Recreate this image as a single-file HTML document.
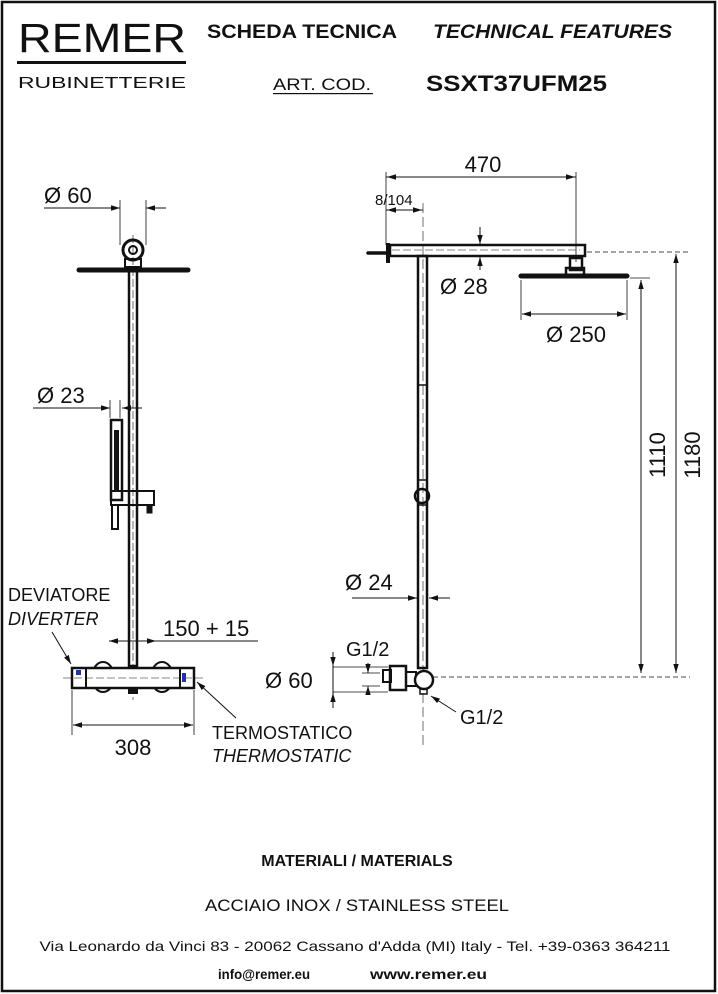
<!DOCTYPE html>
<html><head><meta charset="utf-8"><style>
html,body{margin:0;padding:0;background:#fff}
svg{display:block}
text{font-family:"Liberation Sans",sans-serif;fill:#111}
</style></head><body>
<svg width="718" height="994" viewBox="0 0 718 994" xmlns="http://www.w3.org/2000/svg">
<defs>
<marker id="a" viewBox="0 0 10 10" refX="10" refY="5" markerWidth="9" markerHeight="9" orient="auto-start-reverse"><path d="M0,2 L10,5 L0,8 z" fill="#111"/></marker>
</defs>
<rect x="2" y="2" width="713" height="989" fill="none" stroke="#111" stroke-width="2.5"/>
<!-- header -->
<text x="18" y="52" font-size="41" textLength="168" lengthAdjust="spacingAndGlyphs">REMER</text>
<rect x="17" y="61" width="169" height="3" fill="#111"/>
<text x="18" y="88" font-size="16" textLength="168" lengthAdjust="spacingAndGlyphs">RUBINETTERIE</text>
<text x="207" y="38" font-size="19" font-weight="bold" textLength="190" lengthAdjust="spacingAndGlyphs">SCHEDA TECNICA</text>
<text x="433" y="38" font-size="19" font-weight="bold" font-style="italic" textLength="239" lengthAdjust="spacingAndGlyphs">TECHNICAL FEATURES</text>
<text x="273" y="90" font-size="17" textLength="98" lengthAdjust="spacingAndGlyphs">ART. COD.</text>
<rect x="273" y="93" width="100" height="1.2" fill="#111"/>
<text x="426" y="91" font-size="22" font-weight="bold" textLength="181" lengthAdjust="spacingAndGlyphs">SSXT37UFM25</text>

<g stroke="#111" fill="none">
<!-- LEFT drawing -->
<line x1="44" y1="208" x2="120" y2="208" stroke-width="1"/>
<line x1="105" y1="208" x2="120" y2="208" marker-end="url(#a)" stroke-width="1"/>
<line x1="166" y1="208" x2="146" y2="208" marker-end="url(#a)" stroke-width="1"/>
<line x1="120" y1="200" x2="120" y2="245" stroke-width="0.8"/>
<line x1="146" y1="200" x2="146" y2="245" stroke-width="0.8"/>
<circle cx="133" cy="250" r="10" stroke-width="3"/>
<circle cx="133" cy="250" r="4" stroke-width="2"/>
<rect x="125" y="259" width="16" height="8" stroke-width="2"/>
<line x1="79" y1="270" x2="188" y2="270" stroke-width="5" stroke-linecap="round"/>
<rect x="129" y="270" width="8" height="396" stroke-width="2.5"/>
<line x1="133" y1="235" x2="133" y2="700" stroke-width="0.6" stroke-dasharray="8 3"/>
<line x1="33" y1="408" x2="110" y2="408" stroke-width="1"/>
<line x1="95" y1="408" x2="110" y2="408" marker-end="url(#a)" stroke-width="1"/>
<line x1="142" y1="408" x2="122" y2="408" marker-end="url(#a)" stroke-width="1"/>
<line x1="110" y1="400" x2="110" y2="418" stroke-width="0.8"/>
<line x1="120" y1="400" x2="120" y2="418" stroke-width="0.8"/>
<rect x="111" y="420" width="11" height="80" stroke-width="2.5"/>
<rect x="114" y="430" width="5" height="60" fill="#111" stroke="none"/>
<rect x="111" y="491" width="43" height="14" stroke-width="2"/>
<rect x="112" y="505" width="6" height="24" stroke-width="2"/>
<rect x="147" y="505" width="5" height="8" fill="#111" stroke-width="1"/>
<!-- 150+15 -->
<line x1="109" y1="641" x2="258" y2="641" stroke-width="1"/>
<line x1="125" y1="641" x2="109" y2="641" marker-end="url(#a)" stroke-width="1"/>
<line x1="140" y1="641" x2="156" y2="641" marker-end="url(#a)" stroke-width="1"/>
<!-- body -->
<ellipse cx="103" cy="677" rx="11" ry="15" stroke-width="2"/>
<ellipse cx="162" cy="677" rx="11" ry="15" stroke-width="2"/>
<rect x="72" y="668" width="122" height="20" fill="#fff" stroke-width="2.5"/>
<line x1="86" y1="668" x2="86" y2="688" stroke-width="2"/>
<line x1="180" y1="668" x2="180" y2="688" stroke-width="2"/>
<line x1="63" y1="678" x2="205" y2="678" stroke-width="0.6" stroke-dasharray="8 3"/>
<rect x="128" y="688" width="10" height="6" fill="#111" stroke="none"/>
<rect x="76" y="670" width="5" height="5" fill="#2233aa" stroke="none"/>
<rect x="182" y="673" width="4" height="9" fill="#2233aa" stroke="none"/>
<line x1="52" y1="632" x2="71" y2="664" marker-end="url(#a)" stroke-width="1"/>
<line x1="236" y1="718" x2="197" y2="682" marker-end="url(#a)" stroke-width="1"/>
<line x1="72" y1="690" x2="72" y2="735" stroke-width="0.8"/>
<line x1="194" y1="690" x2="194" y2="735" stroke-width="0.8"/>
<line x1="90" y1="725" x2="73" y2="725" marker-end="url(#a)" stroke-width="1"/>
<line x1="90" y1="725" x2="176" y2="725" stroke-width="1"/>
<line x1="176" y1="725" x2="193" y2="725" marker-end="url(#a)" stroke-width="1"/>

<!-- RIGHT drawing -->
<line x1="386" y1="177" x2="576" y2="177" stroke-width="1"/>
<line x1="400" y1="177" x2="387" y2="177" marker-end="url(#a)" stroke-width="1"/>
<line x1="560" y1="177" x2="575" y2="177" marker-end="url(#a)" stroke-width="1"/>
<line x1="386" y1="172" x2="386" y2="245" stroke-width="0.8"/>
<line x1="576" y1="172" x2="576" y2="262" stroke-width="0.8"/>
<line x1="400" y1="210" x2="387" y2="210" marker-end="url(#a)" stroke-width="1"/>
<line x1="410" y1="210" x2="422" y2="210" marker-end="url(#a)" stroke-width="1"/>
<line x1="386" y1="210" x2="423" y2="210" stroke-width="1"/>
<line x1="423" y1="203" x2="423" y2="745" stroke-width="0.6" stroke-dasharray="10 4"/>
<rect x="390" y="245" width="195" height="11" stroke-width="2.5"/>
<line x1="368" y1="253" x2="388" y2="253" stroke-width="3.5" stroke-linecap="round"/>
<line x1="388" y1="243" x2="388" y2="263" stroke-width="4"/>
<line x1="392" y1="250" x2="580" y2="250" stroke-width="0.6" stroke-dasharray="8 3"/>
<line x1="480" y1="227" x2="480" y2="244" marker-end="url(#a)" stroke-width="1"/>
<line x1="480" y1="270" x2="480" y2="257" marker-end="url(#a)" stroke-width="1"/>
<rect x="418" y="256" width="9" height="412" stroke-width="2.5"/>
<line x1="418" y1="385" x2="427" y2="385" stroke-width="1.5"/>
<circle cx="422" cy="496" r="7" stroke-width="2.5"/>
<line x1="418" y1="480" x2="427" y2="480" stroke-width="1.5"/>
<line x1="418" y1="505" x2="427" y2="505" stroke-width="1.5"/>
<rect x="570" y="258" width="12" height="12" stroke-width="2.5"/>
<rect x="566" y="268" width="18" height="7" stroke-width="2.5"/>
<line x1="521" y1="276" x2="627" y2="276" stroke-width="5" stroke-linecap="round"/>
<line x1="521" y1="280" x2="521" y2="320" stroke-width="0.8"/>
<line x1="627" y1="280" x2="627" y2="320" stroke-width="0.8"/>
<line x1="540" y1="314" x2="522" y2="314" marker-end="url(#a)" stroke-width="1"/>
<line x1="540" y1="314" x2="608" y2="314" stroke-width="1"/>
<line x1="608" y1="314" x2="626" y2="314" marker-end="url(#a)" stroke-width="1"/>
<line x1="630" y1="278" x2="650" y2="278" stroke-width="0.8"/>
<line x1="641" y1="295" x2="641" y2="280" marker-end="url(#a)" stroke-width="1"/>
<line x1="641" y1="295" x2="641" y2="655" stroke-width="1"/>
<line x1="641" y1="655" x2="641" y2="673" marker-end="url(#a)" stroke-width="1"/>
<line x1="676" y1="270" x2="676" y2="254" marker-end="url(#a)" stroke-width="1"/>
<line x1="676" y1="270" x2="676" y2="655" stroke-width="1"/>
<line x1="676" y1="655" x2="676" y2="673" marker-end="url(#a)" stroke-width="1"/>
<line x1="587" y1="252" x2="690" y2="252" stroke-width="0.8" stroke-dasharray="5 3"/>
<line x1="433" y1="677" x2="690" y2="677" stroke-width="0.8" stroke-dasharray="5 3"/>
<!-- Ø24 -->
<line x1="352" y1="598" x2="416" y2="598" stroke-width="1"/>
<line x1="400" y1="598" x2="417" y2="598" marker-end="url(#a)" stroke-width="1"/>
<line x1="450" y1="598" x2="429" y2="598" marker-end="url(#a)" stroke-width="1"/>
<!-- valve -->
<rect x="383" y="670" width="8" height="12" stroke-width="2"/>
<rect x="390" y="666" width="16" height="24" stroke-width="2.5"/>
<rect x="406" y="672" width="10" height="14" stroke-width="2"/>
<circle cx="424" cy="680" r="9" fill="#fff" stroke-width="2.5"/>
<rect x="420" y="689" width="7" height="5" stroke-width="1.5"/>
<line x1="333" y1="667" x2="388" y2="667" stroke-width="0.8"/>
<line x1="333" y1="692" x2="388" y2="692" stroke-width="0.8"/>
<line x1="333" y1="652" x2="333" y2="666" marker-end="url(#a)" stroke-width="1"/>
<line x1="333" y1="708" x2="333" y2="693" marker-end="url(#a)" stroke-width="1"/>
<line x1="333" y1="666" x2="333" y2="693" stroke-width="1"/>
<line x1="368" y1="663" x2="368" y2="673" marker-end="url(#a)" stroke-width="1"/>
<line x1="368" y1="695" x2="368" y2="686" marker-end="url(#a)" stroke-width="1"/>
<line x1="362" y1="673" x2="380" y2="673" stroke-width="0.8"/>
<line x1="362" y1="686" x2="380" y2="686" stroke-width="0.8"/>
<line x1="456" y1="712" x2="431" y2="696" marker-end="url(#a)" stroke-width="1"/>
</g>

<!-- labels -->
<g font-size="22">
<text x="44" y="203">Ø 60</text>
<text x="37" y="403">Ø 23</text>
<text x="163" y="636">150 + 15</text>
<text x="133" y="755" text-anchor="middle">308</text>
<text x="483" y="172" text-anchor="middle">470</text>
<text x="440" y="294">Ø 28</text>
<text x="576" y="342" text-anchor="middle">Ø 250</text>
<text x="345" y="590">Ø 24</text>
<text x="265" y="688">Ø 60</text>
<text x="346" y="656" font-size="20">G1/2</text>
<text x="460" y="724" font-size="20">G1/2</text>
<text transform="translate(665,455) rotate(-90)" text-anchor="middle">1110</text>
<text transform="translate(700,455) rotate(-90)" text-anchor="middle">1180</text>
</g>
<text x="375" y="205" font-size="15">8/104</text>
<text x="8" y="601" font-size="18">DEVIATORE</text>
<text x="8" y="625" font-size="18" font-style="italic">DIVERTER</text>
<text x="212" y="739" font-size="18">TERMOSTATICO</text>
<text x="212" y="762" font-size="18" font-style="italic">THERMOSTATIC</text>

<!-- footer -->
<text x="357" y="866" font-size="16" font-weight="bold" text-anchor="middle">MATERIALI / MATERIALS</text>
<text x="357" y="911" font-size="17" text-anchor="middle" textLength="304" lengthAdjust="spacingAndGlyphs">ACCIAIO INOX / STAINLESS STEEL</text>
<text x="355" y="951" font-size="14" text-anchor="middle" textLength="631" lengthAdjust="spacingAndGlyphs">Via Leonardo da Vinci 83 - 20062 Cassano d'Adda (MI) Italy - Tel. +39-0363 364211</text>
<text x="218" y="979" font-size="14" font-weight="bold" textLength="92" lengthAdjust="spacingAndGlyphs">info@remer.eu</text>
<text x="370" y="979" font-size="14" font-weight="bold" textLength="117" lengthAdjust="spacingAndGlyphs">www.remer.eu</text>
</svg>
</body></html>
